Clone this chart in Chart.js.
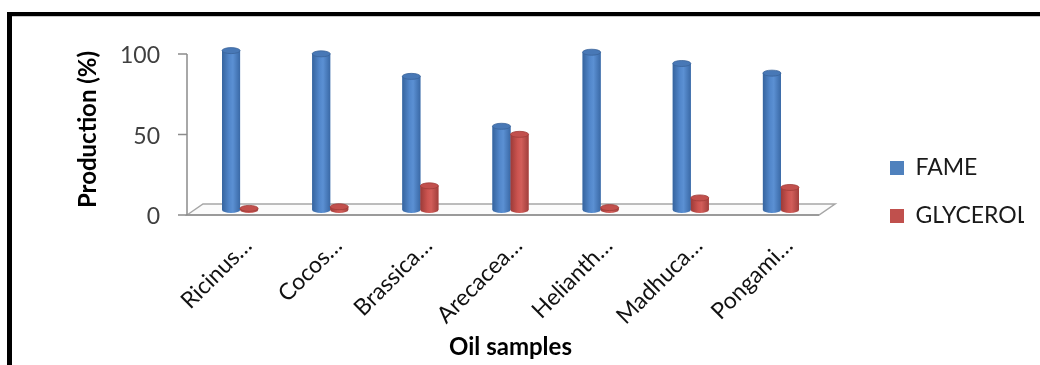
<!DOCTYPE html>
<html>
<head>
<meta charset="utf-8">
<script src="https://cdn.jsdelivr.net/npm/chart.js@4"></script>
<style>
  html, body { margin: 0; padding: 0; background: #fff; }
  #wrap { position: relative; width: 1040px; height: 365px; overflow: hidden; }
  #frame {
    position: absolute; left: 7px; top: 12px; width: 1100px; height: 400px;
    border-top: 4px solid #000; border-left: 5px solid #000;
    box-shadow: inset 0 1px 0 #c8c8c8;
  }
  #chart { position: absolute; left: 0; top: 0; }
</style>
</head>
<body>
<div id="wrap">
  <div id="frame"></div>
  <canvas id="chart" width="1040" height="365"></canvas>
</div>
<script>
const categories = ['Ricinus…', 'Cocos…', 'Brassica…', 'Arecacea…', 'Helianth…', 'Madhuca…', 'Pongami…'];
const fame = [99, 97, 83, 52, 98, 91, 85];
const glycerol = [1, 2, 15, 47, 1.5, 7.5, 14];
const yTicks = [0, 50, 100];

const FONT = 'Lato, "Open Sans", sans-serif';

// shading for each series: body gradient stops, cap fill, cap edge
const shades = [
  { stops: ['#36649e', '#5287cb', '#5b90d3', '#3a69a6'], cap: '#4878b6', rim: '#3a6399' },
  { stops: ['#9c3b38', '#cc5450', '#d25e5a', '#a13f3c'], cap: '#c2504d', rim: '#a03c39' }
];

// 3D floor and front axis, drawn from the scale positions
const floorPlugin = {
  id: 'floor',
  beforeDatasetsDraw(chart) {
    const { ctx, chartArea } = chart;
    const y = chart.scales.y;
    const y0 = y.getPixelForValue(0);
    const L = chartArea.left, R = chartArea.right;
    ctx.save();
    ctx.beginPath();
    ctx.moveTo(L - 8, y0 + 5);
    ctx.lineTo(L + 8, y0 - 6);
    ctx.lineTo(R + 9, y0 - 6);
    ctx.lineTo(R - 7, y0 + 5);
    ctx.closePath();
    ctx.fillStyle = '#fbfbfb';
    ctx.fill();
    ctx.strokeStyle = '#a6a6a6';
    ctx.lineWidth = 1.5;
    ctx.stroke();
    ctx.beginPath();
    ctx.moveTo(L - 8, y0 + 5);
    ctx.lineTo(R - 7, y0 + 5);
    ctx.strokeStyle = '#9a9a9a';
    ctx.lineWidth = 2;
    ctx.stroke();
    // front value axis
    ctx.beginPath();
    ctx.moveTo(L - 8, y.getPixelForValue(100) + 5);
    ctx.lineTo(L - 8, y0 + 5);
    yTicks.forEach(v => {
      const py = y.getPixelForValue(v) + 5;
      ctx.moveTo(L - 17, py);
      ctx.lineTo(L - 8, py);
    });
    ctx.strokeStyle = '#8c8c8c';
    ctx.lineWidth = 1.5;
    ctx.stroke();
    ctx.restore();
  }
};

// turn the flat bars into cylinders
const cylinderPlugin = {
  id: 'cylinder',
  afterDatasetsDraw(chart) {
    const { ctx } = chart;
    chart.data.datasets.forEach((ds, di) => {
      const meta = chart.getDatasetMeta(di);
      const s = shades[di];
      meta.data.forEach(bar => {
        const { x, y, base, width } = bar.getProps(['x', 'y', 'base', 'width'], true);
        const l = x - width / 2, r = x + width / 2, ry = 3;
        const g = ctx.createLinearGradient(l, 0, r, 0);
        g.addColorStop(0, s.stops[0]);
        g.addColorStop(0.4, s.stops[1]);
        g.addColorStop(0.6, s.stops[2]);
        g.addColorStop(1, s.stops[3]);
        ctx.save();
        ctx.beginPath();
        ctx.moveTo(l, y);
        ctx.lineTo(l, base);
        ctx.ellipse(x, base, width / 2, ry, 0, Math.PI, 0, true);
        ctx.lineTo(r, y);
        ctx.closePath();
        ctx.fillStyle = g;
        ctx.fill();
        ctx.beginPath();
        ctx.ellipse(x, y, width / 2, ry, 0, 0, Math.PI * 2);
        ctx.fillStyle = s.cap;
        ctx.fill();
        ctx.strokeStyle = s.rim;
        ctx.lineWidth = 0.8;
        ctx.stroke();
        ctx.restore();
      });
    });
  }
};

new Chart(document.getElementById('chart'), {
  type: 'bar',
  data: {
    labels: categories,
    datasets: [
      { label: 'FAME', data: fame, backgroundColor: '#4f81bd', borderWidth: 0 },
      { label: 'GLYCEROL', data: glycerol, backgroundColor: '#c0504d', borderWidth: 0 }
    ]
  },
  options: {
    responsive: false,
    animation: false,
    categoryPercentage: 0.4,
    barPercentage: 1.0,
    layout: { padding: { left: 70, top: 49, right: 16, bottom: 30 } },
    plugins: {
      tooltip: { enabled: false },
      legend: {
        position: 'right',
        labels: {
          boxWidth: 14,
          boxHeight: 14,
          padding: 25,
          color: '#1a1a1a',
          font: { family: FONT, size: 23 }
        }
      }
    },
    scales: {
      x: {
        grid: { display: false },
        border: { display: false },
        ticks: {
          autoSkip: false,
          maxRotation: 45,
          minRotation: 45,
          color: '#111',
          font: { family: FONT, size: 23 },
          padding: 14,
          labelOffset: 8
        },
        title: {
          display: true,
          text: 'Oil samples',
          color: '#000',
          font: { family: FONT, size: 24, weight: 'bold' },
          padding: { top: 0, bottom: -27 }
        },
        afterFit(scale) { scale.height = 125; }
      },
      y: {
        min: 0,
        max: 100,
        afterBuildTicks(scale) { scale.ticks = yTicks.map(v => ({ value: v })); },
        grid: { display: false, drawTicks: false },
        border: { display: false },
        ticks: {
          padding: 35,
          labelOffset: 7,
          color: '#404040',
          font: { family: FONT, size: 23 }
        },
        title: {
          display: true,
          text: 'Production (%)',
          color: '#000',
          font: { family: FONT, size: 24, weight: 'bold' },
          padding: { top: 4, bottom: 0 }
        },
        afterFit(scale) { scale.width = 125; }
      },
      y2: {
        position: 'right',
        display: true,
        grid: { display: false },
        border: { display: false },
        ticks: { display: false },
        afterFit(scale) { scale.width = 39; }
      }
    }
  },
  plugins: [floorPlugin, cylinderPlugin]
});
</script>
</body>
</html>
